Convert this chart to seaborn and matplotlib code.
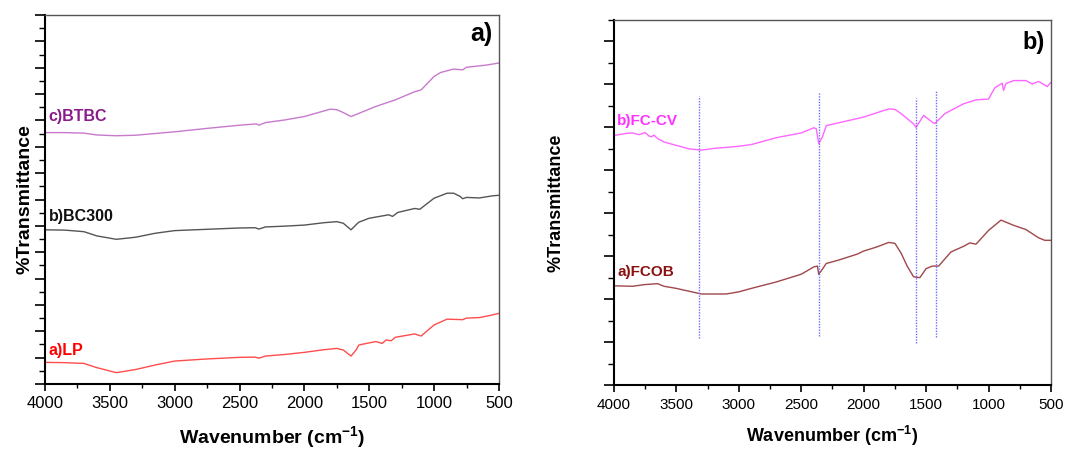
import numpy as np
import pandas as pd
import matplotlib
matplotlib.use("Agg")
import matplotlib.pyplot as plt
import seaborn as sns
from matplotlib.ticker import MultipleLocator

# Datos (numero de onda en cm-1, transmitancia en unidades arbitrarias)
wn_lp = [4000, 3850, 3700, 3600, 3450, 3300, 3150, 3000, 2750, 2500, 2380, 2350, 2300, 2150, 2000,
         1850, 1750, 1700, 1640, 1600, 1580, 1450, 1400, 1370, 1330, 1300, 1150, 1100, 1000, 900,
         780, 750, 650, 550, 500]
t_lp = [0.82, 0.81, 0.78, 0.62, 0.43, 0.55, 0.72, 0.87, 0.95, 1.01, 1.02, 0.98, 1.06, 1.12, 1.20,
        1.30, 1.35, 1.29, 1.06, 1.30, 1.48, 1.61, 1.54, 1.67, 1.64, 1.77, 1.90, 1.82, 2.24, 2.46,
        2.44, 2.50, 2.52, 2.62, 2.68]

wn_bc = [4000, 3850, 3700, 3600, 3450, 3300, 3150, 3000, 2750, 2500, 2380, 2350, 2300, 2150, 2000,
         1850, 1750, 1700, 1640, 1600, 1580, 1500, 1350, 1320, 1280, 1150, 1110, 1000, 900, 850,
         800, 780, 750, 650, 550, 500]
t_bc = [5.85, 5.84, 5.78, 5.62, 5.49, 5.57, 5.72, 5.82, 5.87, 5.92, 5.93, 5.88, 5.96, 5.99, 6.03,
        6.12, 6.16, 6.10, 5.85, 6.05, 6.14, 6.29, 6.42, 6.36, 6.51, 6.66, 6.63, 7.05, 7.24, 7.24,
        7.12, 7.03, 7.08, 7.06, 7.14, 7.16]

wn_btbc = [4000, 3850, 3700, 3600, 3450, 3300, 3000, 2750, 2500, 2370, 2350, 2300, 2150, 2000,
           1800, 1750, 1700, 1640, 1550, 1450, 1300, 1150, 1100, 1000, 950, 850, 780, 750, 600, 500]
t_btbc = [9.54, 9.54, 9.52, 9.45, 9.42, 9.44, 9.57, 9.70, 9.82, 9.87, 9.82, 9.92, 10.02, 10.15,
          10.43, 10.41, 10.30, 10.15, 10.33, 10.53, 10.78, 11.09, 11.16, 11.67, 11.82, 11.95, 11.92,
          12.02, 12.10, 12.18]

wn_fcob = [4000, 3850, 3750, 3700, 3650, 3600, 3500, 3300, 3100, 3000, 2900, 2700, 2500, 2400, 2370,
           2360, 2330, 2300, 2200, 2050, 2000, 1900, 1800, 1750, 1700, 1650, 1600, 1550, 1500, 1450,
           1400, 1300, 1200, 1150, 1100, 1000, 900, 800, 700, 600, 550, 500]
t_fcob = [2.31, 2.30, 2.34, 2.35, 2.36, 2.30, 2.25, 2.12, 2.12, 2.17, 2.25, 2.40, 2.58, 2.75, 2.77,
          2.58, 2.70, 2.83, 2.91, 3.05, 3.12, 3.21, 3.32, 3.30, 3.07, 2.76, 2.52, 2.50, 2.71, 2.77,
          2.77, 3.10, 3.23, 3.31, 3.28, 3.60, 3.84, 3.72, 3.62, 3.43, 3.37, 3.37]

wn_fccv = [4000, 3900, 3850, 3800, 3750, 3720, 3700, 3680, 3650, 3600, 3500, 3400, 3300, 3200, 3000,
           2900, 2700, 2500, 2400, 2380, 2360, 2330, 2300, 2000, 1800, 1750, 1700, 1600, 1580, 1520,
           1450, 1430, 1350, 1200, 1100, 1000, 950, 890, 880, 860, 800, 700, 650, 600, 530, 500]
t_fccv = [5.81, 5.86, 5.87, 5.83, 5.88, 5.80, 5.78, 5.82, 5.74, 5.66, 5.58, 5.50, 5.47, 5.51, 5.56,
          5.60, 5.76, 5.87, 5.99, 5.97, 5.62, 5.78, 6.04, 6.24, 6.43, 6.42, 6.32, 6.08, 6.00, 6.28,
          6.12, 6.09, 6.32, 6.55, 6.64, 6.66, 6.92, 7.03, 6.86, 7.02, 7.09, 7.09, 7.01, 7.07, 6.95, 7.05]

# Lineas de referencia en el panel b) (posicion, y inferior, y superior)
picos = [3320, 2360, 1582, 1419]
picos_ymin = [1.09, 1.14, 0.97, 1.12]
picos_ymax = [6.74, 6.82, 6.68, 6.84]

sns.set_theme(style="white")
plt.rcParams['font.family'] = ['Liberation Sans', 'DejaVu Sans']
plt.rcParams['text.color'] = 'black'
plt.rcParams['axes.labelcolor'] = 'black'
plt.rcParams['xtick.color'] = 'black'
plt.rcParams['ytick.color'] = 'black'
plt.rcParams['mathtext.fontset'] = 'custom'
plt.rcParams['mathtext.rm'] = 'Liberation Sans'
plt.rcParams['mathtext.bf'] = 'Liberation Sans:bold'

def serie(wn, t, nombre):
    return pd.DataFrame({'wn': wn, 't': t, 'muestra': nombre})

df_a = pd.concat([serie(wn_lp, t_lp, 'LP'), serie(wn_bc, t_bc, 'BC300'),
                  serie(wn_btbc, t_btbc, 'BTBC')])
df_b = pd.concat([serie(wn_fcob, t_fcob, 'FCOB'), serie(wn_fccv, t_fccv, 'FC-CV')])

fig = plt.figure(figsize=(10.7, 4.51), dpi=100)
ax1 = fig.add_axes([0.042, 0.1486, 0.4243, 0.818])
ax2 = fig.add_axes([0.5738, 0.1463, 0.4084, 0.8093])

pal_a = {'LP': '#ff4d4d', 'BC300': '#555555', 'BTBC': '#c77acc'}
pal_b = {'FCOB': '#a0474a', 'FC-CV': '#ff66ff'}

sns.lineplot(data=df_a, x='wn', y='t', hue='muestra', palette=pal_a, estimator=None,
             linewidth=1.0, legend=False, ax=ax1)
sns.lineplot(data=df_b, x='wn', y='t', hue='muestra', palette=pal_b, estimator=None,
             linewidth=1.0, legend=False, ax=ax2)

for x, y0, y1 in zip(picos, picos_ymin, picos_ymax):
    ax2.vlines(x, y0, y1, colors='#6f6fff', linestyles=(0, (1, 1)), linewidth=1.0)

# Etiquetas de las curvas
ax1.text(3970, 1.27, 'a)LP', color='#ff0000', fontsize=11.5, fontweight='bold', va='center')
ax1.text(3970, 6.35, 'b)BC300', color='#111111', fontsize=11.5, fontweight='bold', va='center')
ax1.text(3970, 10.15, 'c)BTBC', color='#8b1a8b', fontsize=11.5, fontweight='bold', va='center')
ax2.text(3973, 6.16, 'b)FC-CV', color='#ff33ff', fontsize=11, fontweight='bold', va='center')
ax2.text(3973, 2.64, 'a)FCOB', color='#8b1010', fontsize=11, fontweight='bold', va='center')

ax1.text(0.985, 0.98, 'a)', transform=ax1.transAxes, ha='right', va='top',
         fontsize=18, fontweight='bold')
ax2.text(0.985, 0.97, 'b)', transform=ax2.transAxes, ha='right', va='top',
         fontsize=17, fontweight='bold')

for ax, ymax, tsize, lsize, ypad in [(ax1, 14, 12, 14, 1), (ax2, 8.5, 11, 13, 28)]:
    ax.set_xlim(4000, 500)
    ax.set_ylim(0, ymax)
    ax.xaxis.set_major_locator(MultipleLocator(500))
    ax.xaxis.set_minor_locator(MultipleLocator(250))
    ax.yaxis.set_major_locator(MultipleLocator(1))
    ax.yaxis.set_minor_locator(MultipleLocator(0.5))
    ax.tick_params(axis='x', which='major', direction='out', length=5, width=1.2,
                   labelsize=tsize, pad=4, bottom=True)
    ax.tick_params(axis='x', which='minor', direction='out', length=3, width=1.0, bottom=True)
    ax.tick_params(axis='y', which='major', direction='out', length=7, width=1.2,
                   left=True, labelleft=False)
    ax.tick_params(axis='y', which='minor', direction='out', length=4, width=1.0, left=True)
    ax.set_xlabel('Wavenumber (cm$^{\\mathbf{-1}}$)', fontsize=lsize, fontweight='bold', labelpad=9)
    ax.set_ylabel('%Transmittance', fontsize=lsize, fontweight='bold', labelpad=ypad)
    for lado in ['left', 'bottom']:
        ax.spines[lado].set_color('black')
        ax.spines[lado].set_linewidth(1.5)
    for lado in ['top', 'right']:
        ax.spines[lado].set_color('#555555')
        ax.spines[lado].set_linewidth(1.0)

plt.savefig('out.png', dpi=100)
